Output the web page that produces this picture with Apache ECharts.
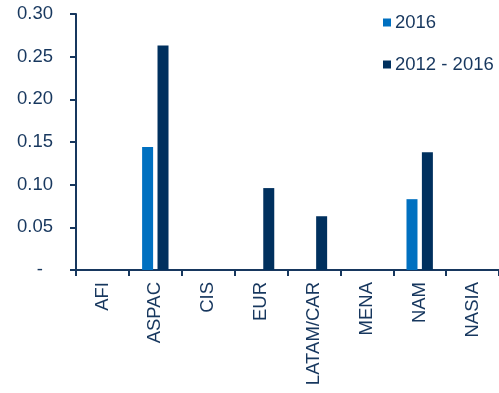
<!DOCTYPE html>
<html>
<head>
<meta charset="utf-8">
<script src="https://cdn.jsdelivr.net/npm/echarts@6/dist/echarts.min.js"></script>
<style>
  html, body { margin: 0; padding: 0; background: #fff; }
  #chart { width: 499px; height: 393px; }
</style>
</head>
<body>
<div id="chart"></div>
<script>
// Regions shown on the category axis
const regions = ['AFI', 'ASPAC', 'CIS', 'EUR', 'LATAM/CAR', 'MENA', 'NAM', 'NASIA'];
// Series names
const seriesNames = ['2016', '2012 - 2016'];
// Values per region (null = no bar)
const values2016 = [null, 0.144, null, null, null, null, 0.083, null];
const values2012to2016 = [null, 0.263, null, 0.096, 0.063, null, 0.138, null];

const ink = '#17375E';
const fontSize = 18.5;
const chart = echarts.init(document.getElementById('chart'));
chart.setOption({
  animation: false,
  textStyle: { fontFamily: 'Liberation Sans, Arial, sans-serif' },
  grid: { left: 76, top: 14, bottom: 123, width: 427 },
  legend: {
    orient: 'vertical',
    left: 378,
    top: 8,
    itemWidth: 8,
    itemHeight: 8,
    itemGap: 23,
    icon: 'rect',
    textStyle: { color: ink, fontSize: fontSize, padding: [0, 0, 0, -1] },
    data: seriesNames
  },
  xAxis: {
    type: 'category',
    data: regions,
    axisLine: { lineStyle: { color: ink, width: 2 } },
    axisTick: { show: true, length: 6, lineStyle: { color: ink, width: 2 } },
    axisLabel: { rotate: 90, color: ink, fontSize: fontSize, margin: 12, interval: 0 }
  },
  yAxis: {
    type: 'value',
    min: 0,
    max: 0.30,
    interval: 0.05,
    splitLine: { show: false },
    axisLine: { show: true, lineStyle: { color: ink, width: 2 } },
    axisTick: { show: true, length: 6, lineStyle: { color: ink, width: 2 } },
    axisLabel: {
      color: ink,
      fontSize: fontSize,
      margin: 23,
      // zero is shown as a dash, held back by the width of two digits
      formatter: v => (v === 0 ? '{z|-}' : v.toFixed(2)),
      rich: { z: { color: ink, fontSize: fontSize, padding: [0, 10, 0, 0] } }
    }
  },
  series: [
    {
      name: seriesNames[0],
      type: 'bar',
      data: values2016,
      barWidth: 11,
      barGap: '40%',
      itemStyle: { color: '#0070C0' }
    },
    {
      name: seriesNames[1],
      type: 'bar',
      data: values2012to2016,
      barWidth: 11,
      itemStyle: { color: '#00305E' }
    }
  ]
});
</script>
</body>
</html>
